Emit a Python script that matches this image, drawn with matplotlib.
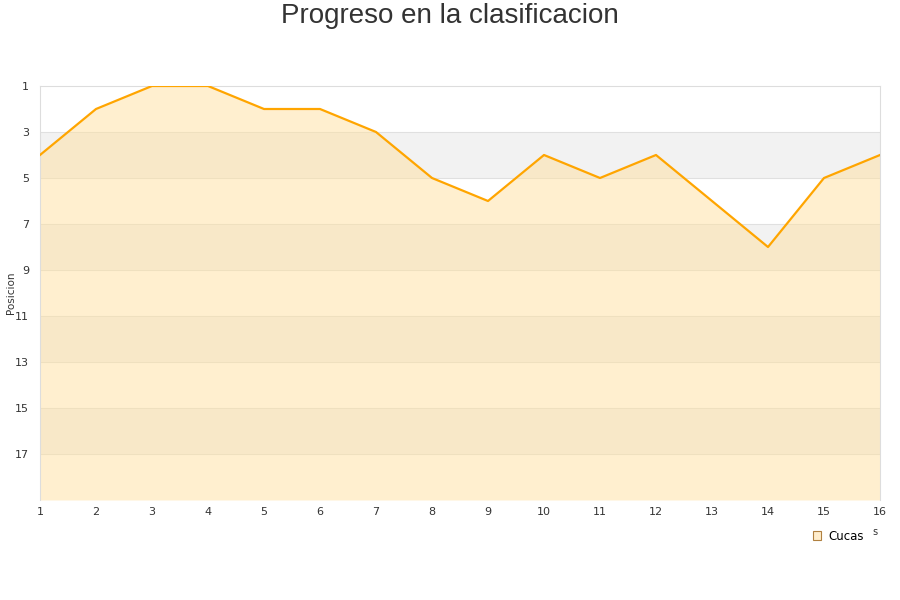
import numpy as np
import matplotlib.pyplot as plt
from matplotlib.patches import Patch

# ------------------------------
# Datos
# ------------------------------
jornadas = list(range(1, 17))
posicion = [4, 2, 1, 1, 2, 2, 3, 5, 6, 4, 5, 4, 6, 8, 5, 4]
y_ticks = list(range(1, 18, 2))
equipo = "Cucas"

fig = plt.figure(figsize=(9, 6), dpi=100)
ax = fig.add_axes([40 / 900, 1 - 500 / 600, 840 / 900, 414 / 600])

# bandas alternas
for y0 in range(3, 19, 4):
    ax.axhspan(y0, y0 + 2, color="#f2f2f2", zorder=0, lw=0)
for y in range(3, 19, 2):
    ax.axhline(y, color="#e0e0e0", lw=0.8, zorder=1)

ax.fill_between(jornadas, posicion, 19, color="#ffe0a0", alpha=0.5, lw=0, zorder=2)
ax.plot(jornadas, posicion, color="#ffa500", lw=1.6, zorder=3)

ax.set_xlim(1, 16)
ax.set_ylim(19, 1)
ax.set_xticks(jornadas)
ax.set_yticks(y_ticks)
ax.tick_params(length=0, labelsize=8, colors="#333333", pad=8)
ax.tick_params(axis="x", pad=5)
for s in ax.spines.values():
    s.set_color("#dddddd")
ax.spines["bottom"].set_visible(False)
ax.set_ylabel("Posicion", fontsize=7.5, color="#333333")
ax.yaxis.set_label_coords(-24 / 840, 0.5)

fig.text(0.5, 1 - 16 / 600, "Progreso en la clasificacion", ha="center", va="center",
         fontsize=20, color="#333333", family="Liberation Sans")
fig.text(875 / 900, 1 - 532 / 600, "s", ha="center", va="center", fontsize=7, color="#333333")

leg = fig.legend(handles=[Patch(facecolor="#ffedcc", edgecolor="#b08040", lw=0.8, label=equipo)],
                 loc="center", bbox_to_anchor=(838 / 900, 1 - 536 / 600), frameon=False,
                 fontsize=8.5, handlelength=0.7, handleheight=0.7, handletextpad=0.6)

fig.savefig("out.png", dpi=100)
